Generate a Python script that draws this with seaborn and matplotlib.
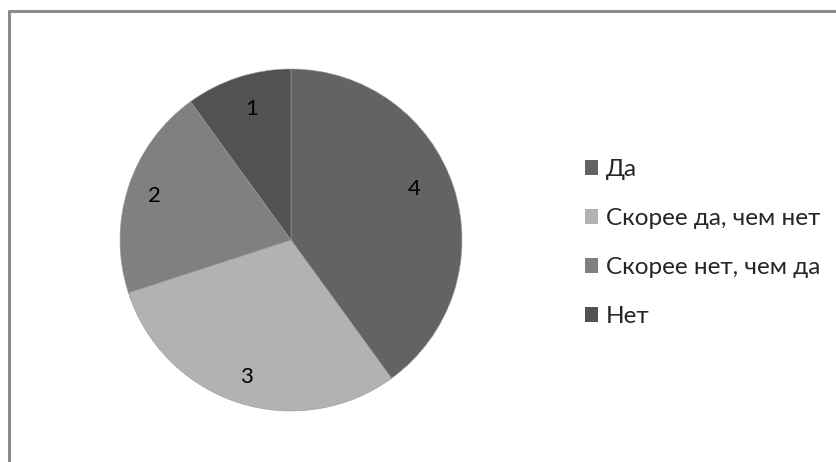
import matplotlib
matplotlib.use("Agg")
import numpy as np
import matplotlib.pyplot as plt
import seaborn as sns
from matplotlib.lines import Line2D

categories = ["Да", "Скорее да, чем нет", "Скорее нет, чем да", "Нет"]
values = [4, 3, 2, 1]
colors = ["#636363", "#b2b2b2", "#808080", "#525252"]

sns.set_theme(style="white")
plt.rcParams["font.family"] = ["Lato", "DejaVu Sans"]

W, H = 837, 462
fig = plt.figure(figsize=(W / 100, H / 100), dpi=100)

# outer frame (top and left edges visible)
fig.add_artist(Line2D([9 / W, 9 / W], [0, 1 - 11 / H], color="#8c8c8c", lw=2.2))
fig.add_artist(Line2D([9 / W, 1], [1 - 11 / H, 1 - 11 / H], color="#8c8c8c", lw=2.2))

cx, cy, r = 291, 240, 171
ax = fig.add_axes([(cx - r) / W, (H - cy - r) / H, 2 * r / W, 2 * r / H])

total = sum(values)
wedges, texts, autotexts = ax.pie(
    values,
    colors=colors,
    startangle=90,
    counterclock=False,
    radius=1,
    autopct=lambda p: f"{p * total / 100:.0f}",
    pctdistance=0.84,
    wedgeprops=dict(linewidth=0.4, edgecolor="#9a9a9a"),
    textprops=dict(fontsize=16, color="black"),
)
# the label of the large wedge sits a little higher and closer to the centre
a = np.deg2rad(22.7)
autotexts[0].set_position((0.78 * np.cos(a), 0.78 * np.sin(a)))
a = np.deg2rad(106.9)
autotexts[3].set_position((0.80 * np.cos(a), 0.80 * np.sin(a)))

ax.set_xlim(-1, 1)
ax.set_ylim(-1, 1)
ax.set_aspect("equal")
ax.axis("off")

leg = fig.legend(
    wedges,
    categories,
    loc="center left",
    bbox_to_anchor=(563 / W, 1 - 243 / H),
    frameon=False,
    fontsize=17.5,
    handlelength=0.55,
    handleheight=0.55,
    handletextpad=0.3,
    labelspacing=1.15,
)
for h in leg.legend_handles:
    h.set_linewidth(0)

fig.savefig("out.png", dpi=100)
